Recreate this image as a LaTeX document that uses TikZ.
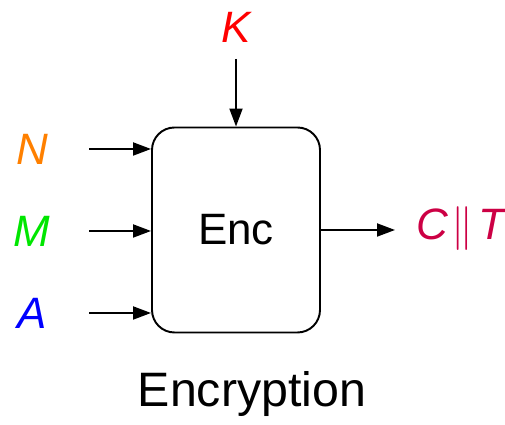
\documentclass[tikz,border=0pt]{standalone}
\usepackage{fontspec}
\setmainfont{Liberation Sans}
\usepackage{tikz}
\usetikzlibrary{positioning, arrows.meta}

\definecolor{keyred}{RGB}{255,0,0}
\definecolor{nonceorange}{RGB}{255,128,0}
\definecolor{msggreen}{RGB}{0,230,0}
\definecolor{adblue}{RGB}{0,0,255}
\definecolor{outcrimson}{RGB}{204,0,68}

\begin{document}
\begin{tikzpicture}[
    big/.style={font=\fontsize{25}{30}\selectfont},
    var/.style={font=\fontsize{25}{30}\selectfont\itshape},
    block/.style={
        rectangle,
        rounded corners=0.45cm,
        draw,
        line width=1.1pt,
        minimum width=3.36cm,
        minimum height=4.1cm,
        big
    },
    arrow/.style={
        line width=1.1pt,
        -{Triangle[length=0.36cm, width=0.26cm]}
    }
]
\useasboundingbox (0,0) rectangle (10.1,8.5);

% Encryption block
\node[block] (enc) at (4.72,3.90) {Enc};
\node[font=\fontsize{27.5}{32}\selectfont] (caption) at (5.04,0.62) {Encryption};

% Inputs
\node[var, text=keyred] (key) at (4.72,7.96) {K};
\node[var, text=nonceorange] (nonce) at (0.64,5.52) {N};
\node[var, text=msggreen] (msg) at (0.64,3.88) {M};
\node[var, text=adblue] (ad) at (0.64,2.24) {A};

% Output
\node[var, text=outcrimson] (out) at (9.22,3.92) {C\kern2pt$\|$\kern3pt T};

% Arrow starts
\coordinate (keyin) at (4.72,7.32);
\coordinate (noncein) at (1.78,5.52);
\coordinate (msgin) at (1.78,3.88);
\coordinate (adin) at (1.78,2.24);
\coordinate (encout) at (7.90,3.90);

% Arrows
\draw[arrow] (keyin) -- (enc.north);
\draw[arrow] (noncein) -- (noncein -| enc.west);
\draw[arrow] (msgin) -- (msgin -| enc.west);
\draw[arrow] (adin) -- (adin -| enc.west);
\draw[arrow] (enc.east) -- (encout);

\end{tikzpicture}
\end{document}
